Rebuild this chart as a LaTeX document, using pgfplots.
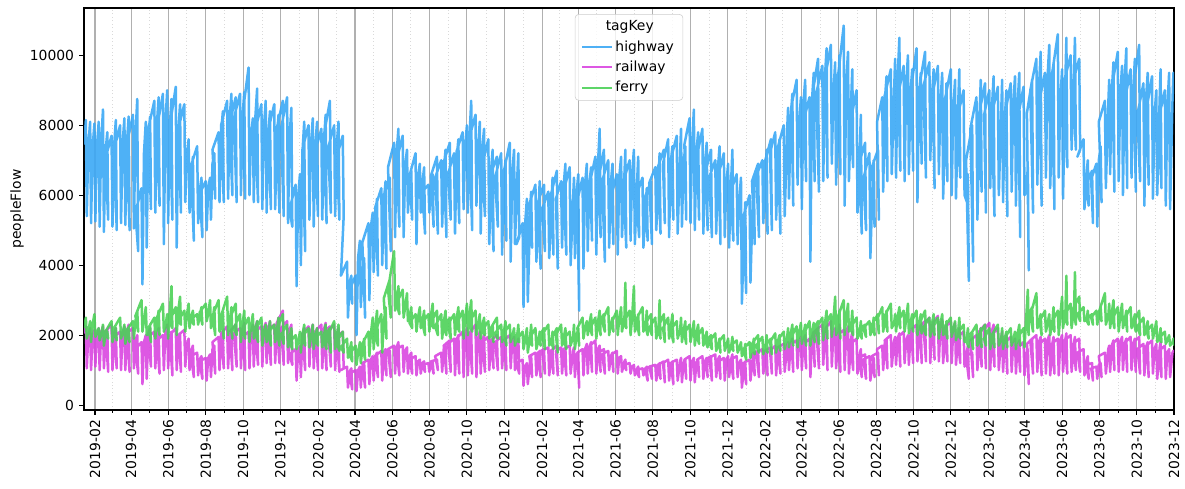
\documentclass[border=0pt]{standalone}
\usepackage{fontspec}
\setmainfont{DejaVu Sans}
\usepackage{pgfplots}
\usepackage{pgfplotstable}
\pgfplotsset{compat=1.18}
\definecolor{hwcol}{HTML}{3BA8F5}
\definecolor{rwcol}{HTML}{D946E0}
\definecolor{frcol}{HTML}{4CD158}

% each week: plateau value, weekly peak, weekly low
\pgfplotstableread[row sep=\\]{v\\
7450\\8150\\5400\\ 7400\\8100\\5200\\ 7350\\8050\\5250\\ 7350\\8100\\5100\\ 7500\\8450\\4950\\ 7200\\7800\\5300\\ 7050\\7700\\5100\\ 7350\\8150\\5000\\ 7300\\8000\\5200\\ 7450\\8200\\5150\\
7450\\8250\\5000\\ 7450\\8300\\5050\\ 7650\\8750\\4400\\ 5500\\6200\\3450\\ 7200\\8100\\4500\\ 7600\\8250\\5600\\ 7900\\8700\\5500\\ 8000\\8800\\5700\\ 7900\\8900\\4600\\ 8050\\9000\\5200\\
7900\\8750\\5300\\ 7950\\9100\\4500\\ 7800\\8600\\5500\\ 7900\\8600\\5800\\ 7100\\7600\\5500\\ 6500\\7100\\4700\\ 6850\\7400\\5200\\ 6100\\6500\\4800\\ 6050\\6400\\5000\\ 6200\\6500\\5300\\
6900\\7200\\5900\\ 7300\\7800\\5800\\ 7750\\8400\\5800\\ 8000\\8700\\5900\\ 8200\\8900\\6000\\ 8050\\8800\\5800\\ 8200\\8900\\6000\\ 8200\\8950\\5900\\ 8300\\9650\\6000\\ 7700\\8200\\5800\\
8200\\9050\\5800\\ 7850\\8600\\5600\\ 7900\\8700\\5500\\ 7700\\8400\\5600\\ 7850\\8600\\5600\\ 7600\\8300\\5500\\ 7900\\8700\\5400\\ 7900\\8800\\5200\\ 7650\\8500\\5100\\ 5600\\6300\\3400\\
5950\\6600\\4000\\ 7200\\8100\\4400\\ 7300\\8000\\5300\\ 7450\\8200\\5100\\ 7400\\8100\\5400\\ 7250\\7900\\5300\\ 7500\\8300\\5200\\ 7700\\8700\\5500\\ 7350\\8000\\5400\\ 7400\\8100\\5300\\
7100\\7700\\5400\\ 3700\\4100\\2500\\ 3500\\3700\\2900\\ 3300\\3700\\2000\\ 4200\\4700\\2800\\ 3800\\4200\\2500\\ 4650\\5200\\3000\\ 5100\\5500\\3800\\ 5350\\5900\\3700\\ 5650\\6200\\4000\\
5800\\6400\\3900\\ 6000\\6500\\4400\\ 6800\\7500\\4800\\ 7200\\7900\\5100\\ 7000\\7700\\4800\\ 6850\\7300\\5500\\ 6350\\6700\\5300\\ 6550\\7200\\4600\\ 6550\\6900\\5500\\ 6300\\6800\\4900\\
6100\\6300\\5500\\ 6200\\6600\\5100\\ 6550\\7100\\4900\\ 6500\\7000\\5100\\ 6700\\7300\\4800\\ 6950\\7500\\5300\\ 6600\\7200\\4900\\ 7000\\7600\\5200\\ 7250\\7800\\5600\\ 7400\\8000\\5500\\
7600\\8700\\5000\\ 7650\\8300\\5700\\ 7300\\8100\\4900\\ 7300\\7900\\5400\\ 6850\\7600\\4600\\ 6600\\7300\\4400\\ 6600\\7100\\5100\\ 6500\\7200\\4300\\ 6400\\7000\\4700\\ 6650\\7500\\4100\\
6600\\7300\\4600\\ 6600\\7200\\4800\\ 4600\\5200\\2800\\ 5150\\5900\\2950\\ 5700\\6100\\4500\\ 5750\\6300\\4100\\ 5800\\6400\\3900\\ 5800\\6300\\4400\\ 5600\\6100\\4200\\ 5950\\6500\\4300\\
6000\\6700\\3900\\ 5900\\6400\\4500\\ 6250\\6900\\4300\\ 6100\\6800\\4000\\ 5900\\6500\\4200\\ 6000\\6600\\2700\\ 5850\\6500\\3900\\ 6300\\6900\\4400\\ 6300\\6800\\4700\\ 6400\\7100\\4300\\
6800\\7900\\4800\\ 6500\\7300\\4100\\ 6400\\7000\\4500\\ 6300\\6900\\4600\\ 6000\\6600\\4300\\ 6500\\7100\\4800\\ 6600\\7300\\4500\\ 6400\\7000\\4700\\ 6600\\7300\\4600\\ 6500\\7100\\4800\\
6000\\6500\\4500\\ 5800\\6200\\4700\\ 5950\\6400\\4600\\ 6350\\6800\\5000\\ 6600\\7200\\4900\\ 6800\\7300\\5200\\ 6900\\7600\\4800\\ 6900\\7400\\5300\\ 7000\\7700\\4900\\ 7200\\7900\\5100\\
6900\\7400\\5300\\ 7450\\8200\\5200\\ 7400\\8450\\5000\\ 7200\\7800\\5300\\ 7150\\7900\\4900\\ 6900\\7500\\5000\\ 6700\\7300\\4800\\ 6500\\7000\\4900\\ 6700\\7400\\4600\\ 6600\\7200\\4800\\
6300\\6900\\4500\\ 6650\\7300\\4700\\ 6100\\6600\\4600\\ 5800\\6500\\2900\\ 5150\\5800\\3200\\ 5400\\6000\\3500\\ 6000\\6500\\4600\\ 6400\\6900\\4800\\ 6550\\7000\\5200\\ 6700\\7300\\4900\\
6950\\7600\\5000\\ 7200\\7800\\5300\\ 6900\\7600\\4900\\ 7350\\8000\\5400\\ 7850\\8500\\5900\\ 8100\\8900\\5700\\ 8550\\9300\\6300\\ 8000\\8800\\5600\\ 8600\\9300\\6400\\ 8200\\8800\\4100\\
8700\\9500\\6400\\ 8950\\9900\\6100\\ 8900\\9700\\6400\\ 9300\\10200\\6500\\ 9450\\10300\\6900\\ 8900\\9800\\6300\\ 9150\\10000\\6600\\ 9300\\10850\\5700\\ 9200\\10100\\6400\\ 8900\\9600\\6800\\
8100\\9000\\5500\\ 7450\\8300\\4900\\ 6900\\7500\\5000\\ 6450\\7200\\4200\\ 6500\\7000\\5100\\ 6800\\7300\\5300\\ 8100\\8800\\6100\\ 8650\\9400\\6400\\ 8850\\9600\\6600\\ 9050\\9900\\6500\\
9300\\10500\\6700\\ 8900\\9700\\6400\\ 9150\\10000\\6600\\ 8900\\9600\\6700\\ 9100\\10200\\5800\\ 8850\\9500\\6900\\ 9200\\10100\\6500\\ 9100\\9800\\7000\\ 8750\\9600\\6200\\ 8900\\9700\\6600\\
8600\\9500\\5900\\ 8500\\9200\\6400\\ 8700\\9600\\6000\\ 8450\\9300\\5900\\ 8800\\9600\\6500\\ 8250\\9000\\6000\\ 5800\\6600\\3550\\ 7000\\8000\\4100\\ 7900\\8800\\5300\\ 8500\\9300\\6100\\
8300\\9200\\5500\\ 8300\\9000\\6200\\ 8400\\9400\\5400\\ 8300\\9100\\6000\\ 8400\\9300\\5800\\ 8100\\9000\\5400\\ 8400\\9200\\6100\\ 8500\\9400\\5700\\ 8500\\9500\\4800\\ 8300\\9100\\6000\\
6100\\6800\\3850\\ 8350\\9300\\5500\\ 9000\\9900\\6300\\ 9000\\10100\\5700\\ 8750\\9500\\6500\\ 9300\\10300\\6200\\ 8750\\9800\\5600\\ 9400\\10600\\6500\\ 8700\\9600\\5900\\ 9400\\10500\\6800\\
9300\\10000\\7300\\ 9500\\10500\\7300\\ 9250\\9900\\7300\\ 7100\\7600\\5600\\ 6700\\7000\\5700\\ 6300\\6700\\5200\\ 6450\\6900\\5100\\ 7000\\7400\\5800\\ 8100\\8700\\6200\\ 8600\\9300\\6600\\
8900\\9800\\6100\\ 9200\\10100\\6400\\ 8800\\9700\\6000\\ 9200\\10200\\6200\\ 8800\\9600\\6500\\ 8950\\9900\\6100\\ 9200\\10300\\6400\\ 8300\\9200\\5700\\ 8700\\9500\\6300\\ 8500\\9400\\5900\\
8250\\9000\\6000\\ 8750\\9600\\6200\\ 8200\\9000\\5700\\ 8500\\9500\\5600\\ 8700\\9500\\8900\\
}\hw

\pgfplotstableread[row sep=\\]{v\\
2050\\2250\\1050\\ 2000\\2200\\1000\\ 2000\\2150\\1100\\ 2000\\2200\\1000\\ 2050\\2250\\1050\\ 1950\\2150\\950\\ 2100\\2300\\1000\\ 2050\\2200\\1050\\ 1950\\2100\\1000\\ 2050\\2250\\1000\\
2100\\2300\\950\\ 2050\\2200\\1050\\ 1850\\2000\\900\\ 1600\\1800\\600\\ 1800\\2000\\750\\ 2050\\2200\\1100\\ 1950\\2100\\1050\\ 2000\\2200\\900\\ 1850\\2000\\1000\\ 2100\\2300\\1050\\
1900\\2100\\850\\ 2000\\2200\\1000\\ 1900\\2050\\950\\ 2000\\2150\\1100\\ 1750\\1900\\1000\\ 1550\\1700\\800\\ 1400\\1500\\850\\ 1300\\1400\\750\\ 1250\\1350\\700\\ 1350\\1450\\800\\
1600\\1700\\900\\ 1800\\1950\\1000\\ 1950\\2100\\1050\\ 2050\\2250\\1050\\ 2000\\2150\\1000\\ 2100\\2300\\1100\\ 2050\\2200\\1050\\ 2150\\2350\\1000\\ 1950\\2100\\1050\\ 2100\\2300\\1100\\
2200\\2400\\1150\\ 2100\\2250\\1100\\ 2200\\2350\\1200\\ 2200\\2400\\1150\\ 2150\\2300\\1200\\ 2300\\2500\\1200\\ 2350\\2700\\1150\\ 2200\\2400\\1200\\ 2150\\2300\\1150\\ 1450\\1600\\700\\
1550\\1700\\800\\ 2000\\2200\\1000\\ 2050\\2250\\1100\\ 2100\\2300\\1050\\ 2000\\2200\\1000\\ 2100\\2300\\1050\\ 2150\\2350\\1000\\ 2100\\2250\\1100\\ 2100\\2300\\1000\\ 2000\\2200\\950\\
1950\\2100\\1050\\ 1000\\1100\\500\\ 950\\1050\\450\\ 900\\1000\\400\\ 1000\\1100\\500\\ 1100\\1200\\500\\ 1200\\1300\\600\\ 1300\\1400\\700\\ 1400\\1500\\800\\ 1400\\1550\\700\\
1500\\1600\\850\\ 1450\\1550\\800\\ 1600\\1700\\900\\ 1650\\1800\\850\\ 1600\\1700\\950\\ 1550\\1650\\900\\ 1400\\1500\\900\\ 1300\\1400\\850\\ 1250\\1300\\900\\ 1200\\1250\\950\\
1150\\1200\\950\\ 1200\\1250\\900\\ 1250\\1300\\1000\\ 1400\\1500\\950\\ 1600\\1700\\900\\ 1700\\1850\\950\\ 1750\\1900\\850\\ 1850\\2000\\900\\ 1900\\2100\\800\\ 2000\\2200\\850\\
1900\\2100\\900\\ 2050\\2300\\800\\ 1900\\2100\\900\\ 1850\\2000\\950\\ 1800\\1950\\1000\\ 1750\\1900\\1050\\ 1850\\2000\\1000\\ 1800\\1950\\1050\\ 1750\\1900\\1000\\ 1850\\2000\\1050\\
1800\\1950\\1000\\ 1750\\1900\\900\\ 1200\\1300\\550\\ 1100\\1200\\600\\ 1300\\1400\\800\\ 1400\\1500\\850\\ 1450\\1550\\800\\ 1500\\1600\\900\\ 1550\\1650\\850\\ 1500\\1600\\900\\
1550\\1700\\850\\ 1550\\1650\\900\\ 1500\\1600\\850\\ 1600\\1700\\900\\ 1550\\1650\\800\\ 1450\\1500\\500\\ 1500\\1600\\850\\ 1600\\1750\\900\\ 1650\\1800\\950\\ 1700\\1850\\900\\
1600\\1700\\950\\ 1500\\1600\\900\\ 1450\\1550\\1000\\ 1400\\1500\\950\\ 1450\\1550\\900\\ 1350\\1400\\950\\ 1250\\1300\\1000\\ 1150\\1200\\900\\ 1100\\1150\\850\\ 1050\\1100\\800\\
1000\\1050\\850\\ 1050\\1100\\700\\ 1050\\1100\\750\\ 1100\\1150\\700\\ 1150\\1200\\750\\ 1150\\1250\\650\\ 1200\\1300\\700\\ 1150\\1250\\600\\ 1200\\1300\\700\\ 1250\\1350\\650\\
1200\\1300\\750\\ 1300\\1400\\700\\ 1250\\1350\\650\\ 1200\\1300\\800\\ 1300\\1400\\750\\ 1250\\1350\\800\\ 1300\\1400\\700\\ 1350\\1450\\800\\ 1300\\1400\\750\\ 1250\\1350\\700\\
1300\\1400\\800\\ 1350\\1450\\750\\ 1300\\1400\\800\\ 1200\\1300\\500\\ 1150\\1250\\600\\ 1200\\1300\\700\\ 1400\\1500\\850\\ 1450\\1550\\800\\ 1500\\1600\\900\\ 1450\\1550\\850\\
1550\\1650\\900\\ 1550\\1700\\850\\ 1550\\1650\\900\\ 1650\\1750\\950\\ 1700\\1800\\1000\\ 1750\\1900\\950\\ 1750\\1850\\1050\\ 1800\\1950\\1000\\ 1850\\2000\\1050\\ 1750\\1900\\800\\
1950\\2100\\1100\\ 2050\\2200\\1050\\ 2150\\2300\\1150\\ 2050\\2250\\1000\\ 2200\\2400\\1100\\ 2050\\2200\\1050\\ 2100\\2300\\950\\ 2000\\2150\\1000\\ 2050\\2250\\900\\ 1950\\2100\\1000\\
1750\\1900\\900\\ 1500\\1600\\800\\ 1350\\1450\\750\\ 1300\\1400\\700\\ 1250\\1350\\800\\ 1400\\1500\\850\\ 1600\\1700\\1000\\ 1750\\1900\\1050\\ 1850\\2000\\1100\\ 1850\\1950\\1150\\
1900\\2050\\1100\\ 1950\\2100\\1200\\ 1850\\2000\\1150\\ 2000\\2150\\1200\\ 2150\\2300\\1250\\ 2100\\2250\\1200\\ 2250\\2400\\1250\\ 2300\\2500\\1200\\ 2250\\2400\\1300\\ 2350\\2550\\1250\\
2250\\2450\\1200\\ 2150\\2300\\1250\\ 2200\\2400\\1200\\ 2150\\2350\\1150\\ 2050\\2200\\1200\\ 1950\\2100\\1100\\ 1550\\1700\\750\\ 1400\\1500\\800\\ 1850\\2000\\1000\\ 2050\\2200\\1100\\
2100\\2300\\1050\\ 2150\\2350\\1000\\ 2100\\2300\\1100\\ 2000\\2200\\1000\\ 1950\\2100\\950\\ 1850\\2000\\900\\ 1800\\1950\\950\\ 1750\\1900\\900\\ 1700\\1850\\950\\ 1650\\1800\\850\\
1450\\1600\\600\\ 1750\\1900\\900\\ 1850\\2000\\950\\ 1800\\1950\\850\\ 1750\\1900\\900\\ 1850\\2000\\850\\ 1800\\1950\\900\\ 1750\\1900\\850\\ 1850\\2000\\950\\ 1900\\2050\\900\\
1850\\2000\\950\\ 1800\\1950\\1000\\ 1750\\1900\\950\\ 1500\\1600\\850\\ 1300\\1400\\750\\ 1150\\1200\\700\\ 1050\\1100\\750\\ 1150\\1200\\800\\ 1400\\1500\\900\\ 1600\\1700\\950\\
1700\\1850\\1000\\ 1750\\1900\\950\\ 1800\\1950\\1000\\ 1750\\1900\\950\\ 1800\\1950\\1000\\ 1750\\1900\\950\\ 1800\\1950\\900\\ 1600\\1750\\850\\ 1650\\1800\\800\\ 1700\\1850\\900\\
1600\\1750\\750\\ 1650\\1800\\800\\ 1550\\1700\\750\\ 1500\\1600\\800\\ 1500\\1550\\1500\\
}\rw

\pgfplotstableread[row sep=\\]{v\\
2200\\2500\\1900\\ 2100\\2400\\1800\\ 2300\\2600\\1950\\ 2050\\2200\\1850\\ 2000\\2300\\1700\\ 2000\\2100\\1900\\ 2100\\2400\\1800\\ 2050\\2200\\1850\\ 2200\\2500\\1900\\ 2050\\2300\\1750\\
2000\\2200\\1800\\ 2150\\2400\\1900\\ 2400\\2700\\2100\\ 2550\\3000\\2100\\ 2400\\2800\\2000\\ 2050\\2300\\1800\\ 2200\\2500\\1900\\ 2350\\2700\\2000\\ 2500\\2900\\2100\\ 2250\\2600\\1900\\
2600\\3400\\2200\\ 2400\\2800\\2000\\ 2700\\3100\\2300\\ 2400\\2700\\2100\\ 2550\\2900\\2200\\ 2500\\2700\\2300\\ 2450\\2600\\2300\\ 2550\\2800\\2300\\ 2650\\2900\\2400\\ 2600\\3000\\2200\\
2400\\2800\\2000\\ 2550\\3000\\2100\\ 2300\\2700\\1900\\ 2550\\3100\\2000\\ 2350\\2800\\1900\\ 2450\\2900\\2000\\ 2200\\2600\\1800\\ 2300\\2700\\1900\\ 2150\\2500\\1800\\ 2250\\2600\\1900\\
2100\\2400\\1800\\ 2100\\2500\\1700\\ 2050\\2300\\1800\\ 2050\\2400\\1700\\ 2050\\2300\\1800\\ 2100\\2500\\1700\\ 2150\\2600\\1750\\ 2000\\2300\\1650\\ 1900\\2200\\1600\\ 1800\\2000\\1600\\
1800\\2100\\1500\\ 2000\\2300\\1700\\ 1950\\2200\\1650\\ 1950\\2300\\1600\\ 1950\\2200\\1700\\ 1900\\2100\\1650\\ 1950\\2300\\1600\\ 1850\\2200\\1500\\ 2000\\2400\\1600\\ 1950\\2300\\1550\\
1800\\2100\\1500\\ 1650\\1900\\1350\\ 1550\\1800\\1250\\ 1450\\1700\\1150\\ 1500\\1800\\1200\\ 1600\\1900\\1300\\ 1750\\2100\\1400\\ 2050\\2500\\1600\\ 2200\\2700\\1700\\ 2050\\2600\\1500\\
2350\\2800\\1900\\ 3050\\3600\\2500\\ 3300\\4400\\2700\\ 3000\\3400\\2600\\ 2900\\3300\\2500\\ 2800\\3200\\2400\\ 2500\\2800\\2200\\ 2350\\2600\\2100\\ 2500\\2800\\2200\\ 2350\\2700\\2000\\
2350\\2600\\2100\\ 2550\\2900\\2200\\ 2350\\2700\\2000\\ 2250\\2600\\1900\\ 2350\\2700\\2000\\ 2200\\2500\\1900\\ 2300\\2600\\2000\\ 2450\\2800\\2100\\ 2300\\2700\\1900\\ 2450\\2900\\2000\\
2550\\3000\\2100\\ 2350\\2700\\2000\\ 2250\\2600\\1900\\ 2250\\2500\\2000\\ 2150\\2400\\1900\\ 2050\\2300\\1800\\ 2200\\2500\\1900\\ 2050\\2300\\1800\\ 2050\\2400\\1700\\ 2050\\2300\\1800\\
1950\\2200\\1700\\ 2050\\2300\\1800\\ 1850\\2100\\1600\\ 1850\\2200\\1500\\ 2000\\2300\\1700\\ 1900\\2200\\1600\\ 1900\\2100\\1700\\ 1900\\2200\\1600\\ 2000\\2300\\1700\\ 1850\\2100\\1600\\
1850\\2200\\1500\\ 2000\\2300\\1700\\ 1900\\2200\\1600\\ 1900\\2100\\1700\\ 1950\\2300\\1600\\ 1950\\2200\\1700\\ 2200\\2500\\1900\\ 2200\\2400\\2000\\ 2300\\2600\\2000\\ 2200\\2500\\1900\\
2350\\2700\\2000\\ 2350\\2600\\2100\\ 2400\\2800\\2000\\ 2300\\2500\\2100\\ 2350\\2700\\2000\\ 2450\\2800\\2100\\ 2500\\3500\\2200\\ 2350\\2700\\2000\\ 2500\\3400\\2100\\ 2300\\2600\\2000\\
2450\\2800\\2100\\ 2350\\2700\\2000\\ 2300\\2600\\2000\\ 2200\\2500\\1900\\ 2300\\3000\\1900\\ 2200\\2600\\1800\\ 2200\\2500\\1900\\ 2200\\2600\\1800\\ 2150\\2400\\1900\\ 2150\\2500\\1800\\
2100\\2400\\1750\\ 2050\\2300\\1800\\ 2050\\2400\\1700\\ 2050\\2300\\1750\\ 1950\\2200\\1700\\ 1900\\2100\\1650\\ 1800\\2000\\1600\\ 1800\\2050\\1550\\ 1700\\1900\\1500\\ 1800\\2000\\1550\\
1700\\1900\\1500\\ 1750\\1950\\1550\\ 1700\\1850\\1500\\ 1600\\1800\\1400\\ 1550\\1750\\1300\\ 1600\\1800\\1350\\ 1700\\1900\\1450\\ 1750\\2000\\1500\\ 1700\\1950\\1450\\ 1750\\2000\\1500\\
1700\\1900\\1450\\ 1800\\2050\\1500\\ 1800\\2000\\1550\\ 1850\\2100\\1600\\ 1950\\2200\\1650\\ 2000\\2300\\1700\\ 1950\\2250\\1650\\ 2050\\2350\\1750\\ 2000\\2300\\1700\\ 2050\\2400\\1700\\
2100\\2350\\1800\\ 2100\\2400\\1750\\ 2200\\2500\\1850\\ 2300\\2700\\1900\\ 2300\\2600\\1950\\ 2400\\3100\\2000\\ 2300\\2700\\1900\\ 2500\\3000\\2000\\ 2500\\2900\\2100\\ 2350\\2700\\2000\\
2200\\2500\\1900\\ 2150\\2400\\1900\\ 2150\\2300\\1950\\ 2200\\2400\\2000\\ 2250\\2500\\2000\\ 2300\\2600\\2050\\ 2450\\2800\\2100\\ 2400\\2700\\2100\\ 2550\\2900\\2200\\ 2350\\2600\\2100\\
2500\\2800\\2200\\ 2400\\2700\\2100\\ 2450\\2900\\2050\\ 2350\\2600\\2100\\ 2350\\2700\\2000\\ 2300\\2600\\2050\\ 2350\\2700\\2000\\ 2200\\2500\\1950\\ 2300\\2600\\2000\\ 2200\\2500\\1900\\
2300\\2600\\2000\\ 2150\\2400\\1900\\ 2250\\2500\\1950\\ 2150\\2400\\1850\\ 2200\\2500\\1900\\ 2050\\2300\\1800\\ 1950\\2200\\1650\\ 1850\\2100\\1600\\ 2000\\2300\\1700\\ 1950\\2200\\1650\\
2000\\2300\\1700\\ 1900\\2200\\1600\\ 1900\\2100\\1650\\ 2000\\2300\\1700\\ 1900\\2200\\1600\\ 1900\\2100\\1650\\ 1950\\2200\\1700\\ 1850\\2100\\1600\\ 2000\\2300\\1700\\ 1950\\2200\\1650\\
2400\\3300\\2000\\ 2450\\2800\\2100\\ 2550\\3200\\2200\\ 2300\\2600\\2000\\ 2400\\2700\\2100\\ 2300\\2600\\2000\\ 2450\\2800\\2100\\ 2350\\2700\\2000\\ 2550\\3100\\2200\\ 2700\\3700\\2300\\
2550\\2900\\2200\\ 2750\\3800\\2300\\ 2750\\3100\\2400\\ 2600\\2800\\2400\\ 2500\\2700\\2300\\ 2450\\2600\\2300\\ 2500\\2700\\2300\\ 2600\\2800\\2400\\ 2650\\3200\\2300\\ 2550\\2900\\2200\\
2600\\3000\\2200\\ 2450\\2800\\2100\\ 2550\\2900\\2200\\ 2400\\2700\\2100\\ 2500\\2800\\2200\\ 2350\\2600\\2100\\ 2350\\2700\\2000\\ 2250\\2500\\2000\\ 2150\\2400\\1900\\ 2100\\2300\\1900\\
2100\\2400\\1800\\ 2000\\2200\\1800\\ 1900\\2100\\1750\\ 1850\\2000\\1700\\ 1800\\1900\\1700\\
}\fr

\begin{document}
\begin{tikzpicture}
\useasboundingbox (-60.5pt,-56.2pt) rectangle (792.7pt,295.2pt);
\begin{axis}[
  at={(0,0)}, anchor=south west,
  scale only axis, width=784.8pt, height=289.4pt,
  xmin=13, xmax=1795, ymin=-140, ymax=11350,
  xtick={31,90,151,212,273,334,396,456,517,578,639,700,762,821,882,943,1004,1065,1127,1186,1247,1308,1369,1430,1492,1551,1612,1673,1734,1795},
  xticklabels={2019-02,2019-04,2019-06,2019-08,2019-10,2019-12,2020-02,2020-04,2020-06,2020-08,2020-10,2020-12,2021-02,2021-04,2021-06,2021-08,2021-10,2021-12,2022-02,2022-04,2022-06,2022-08,2022-10,2022-12,2023-02,2023-04,2023-06,2023-08,2023-10,2023-12},
  minor xtick={59,120,181,243,304,365,425,486,547,609,670,731,790,851,912,974,1035,1096,1155,1216,1277,1339,1400,1461,1520,1581,1642,1704,1765},
  ytick={0,2000,4000,6000,8000,10000},
  scaled y ticks=false,
  /pgf/number format/assume math mode=true,
  /pgf/number format/1000 sep={},
  x tick label style={rotate=90, anchor=east, inner xsep=3.5pt, inner ysep=0pt},
  y tick label style={anchor=east, inner xsep=3.5pt, inner ysep=0pt},
  tick label style={font=\fontsize{10}{12}\selectfont},
  tick pos=left,
  tick align=outside,
  major tick length=3.5pt, minor tick length=2pt,
  every tick/.style={black, line width=0.8pt},
  minor tick style={black, line width=0.6pt},
  xmajorgrids, xminorgrids,
  major grid style={color=black!31, line width=0.8pt, solid},
  minor grid style={color=black!15, line width=0.5pt, dotted},
  axis line style={line width=0.8pt},
  ylabel={peopleFlow},
  ylabel style={at={(axis description cs:-0.0615,0.5)}, anchor=center, font=\fontsize{10}{12}\selectfont},
  legend cell align=left,
  legend image code/.code={\draw[#1, line width=1.5pt] (0pt,0pt) -- (21pt,0pt);},
  legend style={at={(axis description cs:0.5,0.985)}, anchor=north, draw=black!20, rounded corners=2.5pt,
    fill=white, fill opacity=0.8, draw opacity=1, text opacity=1,
    font=\fontsize{10}{12}\selectfont, inner xsep=4.5pt, inner ysep=2.5pt, row sep=1.6pt},
]
\addlegendimage{empty legend}
\addlegendentry{\hspace{-7pt}tagKey}
\addplot[hwcol, line width=1.8pt, opacity=0.9, line join=round] table[x expr={13+7*floor(\coordindex/3)+(mod(\coordindex,3)==0 ? 0 : 1.5+1.5*mod(\coordindex,3))}, y=v]{\hw};
\addlegendentry{highway}
\addplot[rwcol, line width=1.8pt, opacity=0.9, line join=round] table[x expr={13+7*floor(\coordindex/3)+(mod(\coordindex,3)==0 ? 0 : 1.5+1.5*mod(\coordindex,3))}, y=v]{\rw};
\addlegendentry{railway}
\addplot[frcol, line width=1.8pt, opacity=0.9, line join=round] table[x expr={13+7*floor(\coordindex/3)+(mod(\coordindex,3)==0 ? 0 : 1.5+1.5*mod(\coordindex,3))}, y=v]{\fr};
\addlegendentry{ferry}
\end{axis}
\end{tikzpicture}
\end{document}
